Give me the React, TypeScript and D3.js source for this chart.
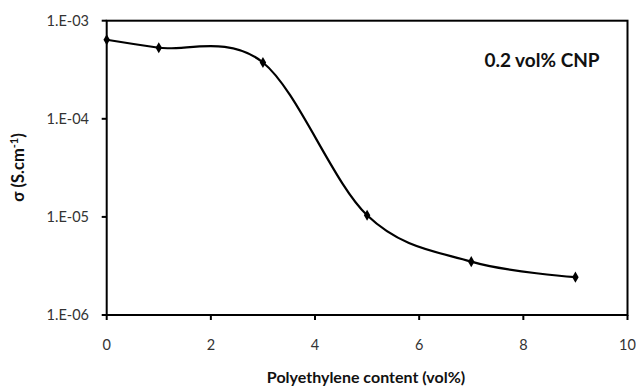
import React from "react";
import * as d3 from "d3";

const xValues = [0, 1, 3, 5, 7, 9];
const sigmaValues = [6.4e-4, 5.3e-4, 3.75e-4, 1.04e-5, 3.5e-6, 2.43e-6];
const xTicks = [0, 2, 4, 6, 8, 10];
const yTicks = [1e-3, 1e-4, 1e-5, 1e-6];
const yTickLabels = ["1.E-03", "1.E-04", "1.E-05", "1.E-06"];
const annotation = "0.2 vol% CNP";
const xTitle = "Polyethylene content (vol%)";

export default function App() {
  const W = 636, H = 386;
  const left = 106.7, right = 627.5, top = 20.7, bottom = 315;
  const x = d3.scaleLinear().domain([0, 10]).range([left, right]);
  const y = d3.scaleLog().domain([1e-6, 1e-3]).range([bottom, top]);
  const pts: [number, number][] = xValues.map((v, i) => [x(v), y(sigmaValues[i])]);
  const line = d3.line().curve(d3.curveCardinal.tension(0))(pts) || "";
  const font = "Lato, 'Open Sans', sans-serif";
  const diamond = d3.symbol().type(d3.symbolDiamond).size(36)() || "";
  return (
    <svg width={W} height={H} style={{ position: "absolute", left: 0, top: 0 }} fontFamily={font}>
      <rect x={0} y={0} width={W} height={H} fill="#fff" />
      <rect x={left} y={top} width={right - left} height={bottom - top} fill="none" stroke="#000" strokeWidth={2} />
      {yTicks.map((t, i) => (
        <g key={i}>
          <line x1={left - 5} x2={left} y1={y(t)} y2={y(t)} stroke="#000" strokeWidth={2} />
          <text x={89} y={y(t)} dy="0.35em" textAnchor="end" fontSize={14.5} fill="#333">{yTickLabels[i]}</text>
        </g>
      ))}
      {xTicks.map((t, i) => (
        <g key={i}>
          <line x1={x(t)} x2={x(t)} y1={bottom} y2={bottom + 5} stroke="#000" strokeWidth={2} />
          <text x={x(t)} y={345} dy="0.35em" textAnchor="middle" fontSize={14.5} fill="#333">{t}</text>
        </g>
      ))}
      <path d={line} fill="none" stroke="#000" strokeWidth={2.2} />
      {pts.map((p, i) => (
        <path key={i} d={diamond} transform={`translate(${p[0]},${p[1]})`} fill="#000" />
      ))}
      <text x={542} y={60} dy="0.35em" textAnchor="middle" fontSize={19} fontWeight="bold" fill="#111">{annotation}</text>
      <text x={366} y={377} dy="0.35em" textAnchor="middle" fontSize={16} fontWeight="bold" fill="#111">{xTitle}</text>
      <text transform={`translate(18.5,167.5) rotate(-90)`} dy="0.35em" textAnchor="middle" fontSize={16.5} fontWeight="bold" fill="#111">
        σ (S.cm<tspan dy="-6" fontSize={11}>-1</tspan><tspan dy="6">)</tspan>
      </text>
    </svg>
  );
}
